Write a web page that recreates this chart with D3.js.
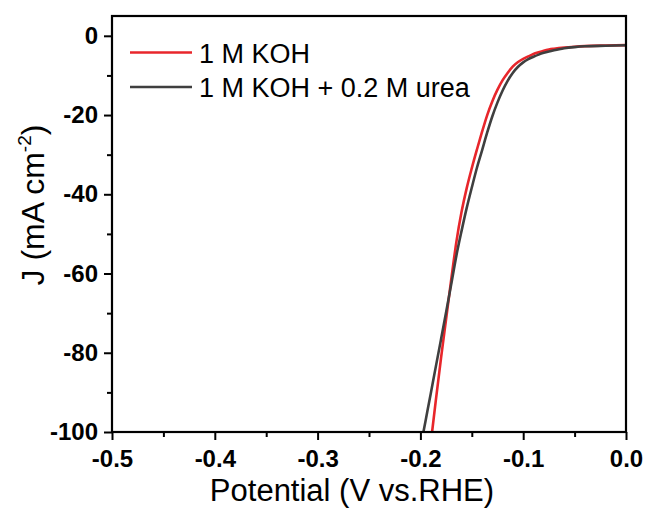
<!DOCTYPE html>
<html>
<head>
<meta charset="utf-8">
<script src="https://cdn.jsdelivr.net/npm/d3@7"></script>
<style>
  html, body { margin: 0; padding: 0; background: #fff; }
  svg { display: block; }
  text { font-family: Arial, "Liberation Sans", sans-serif; fill: #000; }
</style>
</head>
<body>
<svg id="chart" width="649" height="512"></svg>
<script>
// ---- data ----
const potentialKOH = [0.0, -0.02, -0.04, -0.05, -0.06, -0.07, -0.075, -0.08, -0.085, -0.09, -0.095, -0.10, -0.105, -0.11, -0.115, -0.12, -0.125, -0.13, -0.135, -0.14, -0.145, -0.15, -0.155, -0.16, -0.165, -0.17, -0.175, -0.18, -0.185, -0.19];
const currentKOH   = [-2.35, -2.45, -2.6, -2.75, -2.95, -3.25, -3.45, -3.75, -4.15, -4.6, -5.2, -5.8, -6.6, -7.7, -9.3, -11.2, -13.6, -16.5, -20.0, -24.2, -28.7, -33.4, -38.5, -44.5, -52.0, -61.5, -71.5, -81.5, -92.0, -103.0];

const potentialUrea = [0.0, -0.02, -0.04, -0.05, -0.06, -0.065, -0.07, -0.075, -0.08, -0.085, -0.09, -0.095, -0.10, -0.105, -0.11, -0.115, -0.12, -0.125, -0.13, -0.135, -0.14, -0.145, -0.15, -0.155, -0.16, -0.165, -0.17, -0.175, -0.18, -0.185, -0.19, -0.195, -0.20];
const currentUrea   = [-2.4, -2.5, -2.65, -2.85, -3.15, -3.38, -3.65, -3.95, -4.3, -4.75, -5.3, -5.9, -6.7, -7.8, -9.3, -11.3, -13.8, -16.8, -20.3, -24.4, -28.9, -33.3, -38.3, -43.5, -49.3, -55.5, -62.7, -69.8, -76.7, -83.5, -90.4, -97.2, -104.0];

const seriesNames = ["1 M KOH", "1 M KOH + 0.2 M urea"];
const seriesColors = ["#e8262b", "#3f3f3f"];

const xTickValues = [-0.5, -0.4, -0.3, -0.2, -0.1, 0.0];
const xTickLabels = ["-0.5", "-0.4", "-0.3", "-0.2", "-0.1", "0.0"];
const xMinorTicks = [-0.45, -0.35, -0.25, -0.15, -0.05];
const yTickValues = [0, -20, -40, -60, -80, -100];
const yTickLabels = ["0", "-20", "-40", "-60", "-80", "-100"];
const yMinorTicks = [-10, -30, -50, -70, -90];

// ---- layout ----
const svg = d3.select("#chart");
const L = 112, R = 626, T = 16, B = 432;

const x = d3.scaleLinear().domain([-0.5, 0.0]).range([L, R]);
const y = d3.scaleLinear().domain([-100, 5]).range([B, T]);

// clip
svg.append("defs").append("clipPath").attr("id", "clip")
  .append("rect").attr("x", L).attr("y", T).attr("width", R - L).attr("height", B - T);

// curves
const line = d3.line().x(d => x(d[0])).y(d => y(d[1])).curve(d3.curveMonotoneX);
const dataKOH = potentialKOH.map((v, i) => [v, currentKOH[i]]).sort((a, b) => a[0] - b[0]);
const dataUrea = potentialUrea.map((v, i) => [v, currentUrea[i]]).sort((a, b) => a[0] - b[0]);

const g = svg.append("g").attr("clip-path", "url(#clip)");
g.append("path").datum(dataKOH).attr("d", line)
  .attr("fill", "none").attr("stroke", seriesColors[0]).attr("stroke-width", 2.6);
g.append("path").datum(dataUrea).attr("d", line)
  .attr("fill", "none").attr("stroke", seriesColors[1]).attr("stroke-width", 2.6);

// axes
const xAxis = d3.axisBottom(x).tickValues(xTickValues)
  .tickFormat((d, i) => xTickLabels[i]).tickSize(8).tickPadding(10);
const xMinor = d3.axisBottom(x).tickValues(xMinorTicks).tickFormat("").tickSize(5);
const yAxis = d3.axisLeft(y).tickValues(yTickValues)
  .tickFormat((d, i) => yTickLabels[i]).tickSize(8).tickPadding(6);
const yMinor = d3.axisLeft(y).tickValues(yMinorTicks).tickFormat("").tickSize(5);

function styleAxis(sel) {
  sel.select(".domain").remove();
  sel.selectAll(".tick line").attr("stroke", "#000").attr("stroke-width", 2);
  sel.selectAll(".tick text")
    .style("font-family", "Arial, 'Liberation Sans', sans-serif")
    .style("font-weight", "bold").style("font-size", "24px").attr("fill", "#000");
}

svg.append("g").attr("transform", `translate(0,${B})`).call(xAxis).call(styleAxis);
svg.append("g").attr("transform", `translate(0,${B})`).call(xMinor).call(styleAxis);
svg.append("g").attr("transform", `translate(${L},0)`).call(yAxis).call(styleAxis);
svg.append("g").attr("transform", `translate(${L},0)`).call(yMinor).call(styleAxis);

// frame
svg.append("rect").attr("x", L).attr("y", T).attr("width", R - L).attr("height", B - T)
  .attr("fill", "none").attr("stroke", "#000").attr("stroke-width", 2.2);

// axis titles
svg.append("text").attr("x", 352).attr("y", 501).attr("text-anchor", "middle")
  .style("font-size", "31px").text("Potential (V vs.RHE)");

const yl = svg.append("text").attr("transform", "translate(44,205) rotate(-90)")
  .attr("text-anchor", "middle").style("font-size", "32px");
yl.append("tspan").text("J (mA cm");
yl.append("tspan").attr("dy", -13).style("font-size", "19px").text("-2");
yl.append("tspan").attr("dy", 13).text(")");

// legend
const legend = svg.append("g");
seriesNames.forEach((name, i) => {
  const yy = 52.5 + i * 34.5;
  legend.append("line").attr("x1", 130).attr("x2", 192).attr("y1", yy).attr("y2", yy)
    .attr("stroke", seriesColors[i]).attr("stroke-width", 2.6);
  legend.append("text").attr("x", 199).attr("y", yy + 10)
    .style("font-size", "27px").text(name);
});
</script>
</body>
</html>
